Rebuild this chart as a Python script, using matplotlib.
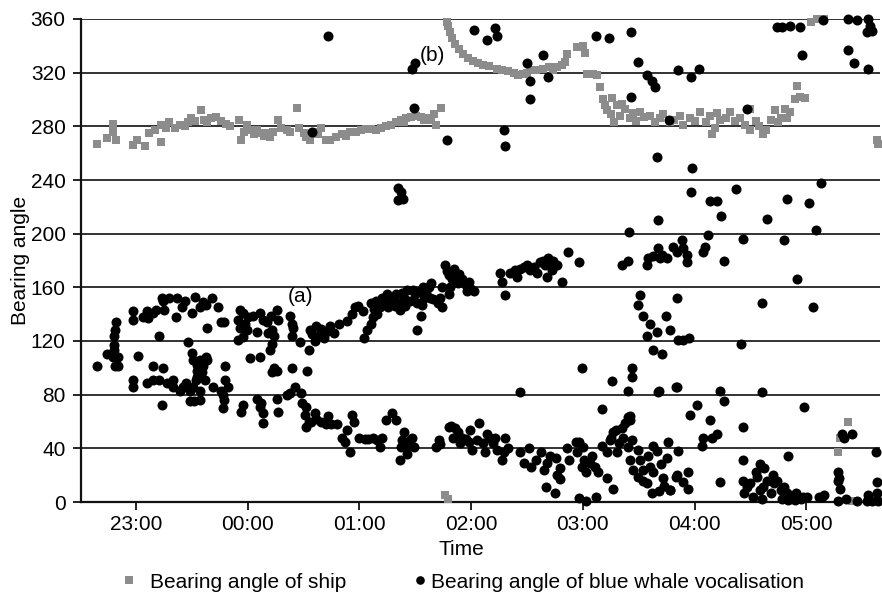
import matplotlib
matplotlib.use("Agg")
import matplotlib.pyplot as plt
from matplotlib.lines import Line2D
import numpy as np

plt.rcParams['font.family'] = ['Liberation Sans', 'DejaVu Sans']

# ---------------- data (time in hours, 24+ = after midnight; bearing in degrees) -------------
tick_hours = [23, 24, 25, 26, 27, 28, 29]
tick_labels = ['23:00', '00:00', '01:00', '02:00', '03:00', '04:00', '05:00']

ship_steady = [(22.65,267),(22.74,271),(22.79,282),(22.79,276),(22.82,270),(22.97,266),(23.01,270),
    (23.08,265),(23.12,275),(23.17,277),(23.22,268),(23.22,281),(23.27,279),(23.30,283),(23.35,279),
    (23.39,281),(23.44,280),(23.47,283),(23.49,286),(23.53,284),(23.58,292),(23.61,285),(23.64,283),
    (23.67,286),(23.72,287),(23.76,284),(23.81,282),(23.84,280),(23.92,285),(23.94,270),(23.97,276),
    (23.99,281),(24.03,277),(24.06,274),(24.08,277),(24.12,275),(24.15,273),(24.17,275),(24.20,272),
    (24.23,276),(24.27,285),(24.30,279),(24.35,277),(24.38,276),(24.44,294),(24.46,279),(24.50,275),
    (24.52,272),(24.56,270),(24.60,276),(24.63,274),(24.66,279),(24.70,270),(24.74,270),(24.79,272),
    (24.84,274),(24.88,273),(24.92,276),(24.97,276),(25.01,277),(25.06,278),(25.10,278),(25.15,277),
    (25.19,279),(25.24,280),(25.28,281),(25.33,283),(25.37,285),(25.40,283),(25.42,286),(25.46,287),
    (25.51,288),(25.55,287),(25.58,285),(25.60,286),(25.64,285),(25.67,289),(25.69,281),(25.73,294)]

ship_curve = [(25.78,358),(25.79,355),(25.81,350),(25.83,346),(25.86,341),(25.89,338),(25.93,334),
    (25.97,331),(26.02,329),(26.06,327),(26.11,326),(26.16,325),(26.23,323),(26.28,322),(26.33,321),
    (26.38,320),(26.42,318),(26.46,319),(26.50,320),(26.53,322),(26.58,322),(26.64,323),(26.70,324),
    (26.73,322),(26.77,324),(26.81,326),(26.84,328),(26.86,334),(26.95,339),(27.00,340),(27.02,335),
    (27.04,319),(27.09,319),(27.13,318),(27.15,309)]

ship_plateau = [(27.18,300),(27.20,296),(27.22,292),(27.25,289),(27.26,301),(27.28,283),(27.31,296),
    (27.33,288),(27.35,297),(27.38,293),(27.42,286),(27.45,290),(27.48,284),(27.51,291),(27.55,287),
    (27.60,288),(27.65,283),(27.69,286),(27.72,289),(27.78,283),(27.82,285),(27.87,288),(27.90,281),
    (27.96,286),(28.00,284),(28.05,291),(28.10,283),(28.14,288),(28.16,274),(28.18,279),(28.20,290),
    (28.23,285),(28.28,286),(28.32,291),(28.36,284),(28.41,286),(28.45,281),(28.50,293),(28.50,277),
    (28.55,284),(28.58,280),(28.61,274),(28.64,277),(28.68,285),(28.72,292),(28.75,283),(28.77,286),
    (28.81,293),(28.83,286),(28.85,291),(28.90,300),(28.92,310),(28.94,302),(28.99,301)]

ship_other = [(25.77,5),(25.79,2),(29.04,358),(29.10,360),(29.16,360),(29.37,60),(29.30,48),
    (29.28,37),(29.41,0.5),(29.44,0.5),(29.63,270),(29.64,267)]

whale_early = [(22.65,101),(22.74,110),(22.79,108),(22.80,124),(22.80,117),(22.80,113),(22.81,101),
    (22.84,101),(22.84,108),(22.82,134),(22.81,128),(22.97,142),(22.97,136),(23.02,109),(22.97,91),
    (22.97,86),(23.06,138),(23.10,142),(23.11,137),(23.15,141),(23.18,143),(23.21,124),(23.23,152),
    (23.25,143),(23.24,150),(23.30,152),(23.37,152),(23.44,150),(23.36,138),(23.41,145),(23.15,101),
    (23.24,100),(23.23,72),(23.10,89),(23.15,91),(23.21,91),(23.28,89),(23.33,91),(23.33,86),
    (23.39,83),(23.42,86),(23.45,89),(23.48,83),(23.51,86),(23.54,91),(23.57,83),(23.57,76),
    (23.48,75),(23.52,75),(23.62,91)]

whale_a = [(23.47,119),(23.50,111),(23.51,106),(23.55,102),(23.57,106),(23.60,101),(23.63,108),
    (23.64,106),(23.59,97),(23.55,93),(23.55,98),(23.53,153),(23.50,141),(23.57,145),(23.60,149),
    (23.63,147),(23.64,130),(23.68,152),(23.73,145),(23.76,134),(23.79,134),(23.69,86),(23.76,83),
    (23.78,80),(23.79,76),(23.80,91),(23.82,86),(23.78,70),(23.80,101),(23.93,143),(23.96,141),
    (23.91,136),(23.93,130),(23.91,121),(23.96,123),(23.98,133),(24.00,138),(24.05,139),(23.99,128),
    (24.02,107),(24.11,141),(24.11,108),(24.14,136),(24.08,127),(23.94,67),(23.96,72),(24.08,77),
    (24.12,74),(24.14,66),(24.14,59),(24.11,71),(24.17,134),(24.18,126),(24.21,139),(24.22,128),
    (24.24,124),(24.26,143),(24.27,136),(24.20,113),(24.22,118),(24.24,100),(24.26,77),(24.27,67),
    (24.26,98),(24.22,97),(24.38,139),(24.40,133),(24.40,124),(24.41,130),(24.40,100),(24.38,81),
    (24.42,86),(24.35,80)]

whale_b = [(24.47,119),(24.48,81),(24.49,74),(24.51,65),(24.52,71),(24.53,98),(24.52,56),(24.55,60),
    (24.56,128),(24.58,125),(24.61,131),(24.63,124),(24.66,129),(24.70,127),(24.74,131),(24.77,126),
    (24.82,133),(24.60,120),(24.68,122),(24.55,113),(24.57,60),(24.61,62),(24.66,60),(24.70,58),
    (24.75,58),(24.80,58),(24.60,66),(24.72,64),(24.84,48),(24.87,45),(24.89,54),(24.92,37),
    (24.93,65),(24.95,60),(25.00,48),(25.05,47),(25.08,47),(24.89,135),(24.93,140),(24.96,145),
    (24.99,146),(25.03,142),(25.04,122),(25.07,128),(25.10,133),(25.12,138),(25.10,148),(25.13,144),
    (25.15,150),(25.18,145),(25.20,152),(25.16,140),(25.22,148),(25.25,155),(25.28,150),(25.30,152),
    (25.33,155),(25.35,148),(25.38,156),(25.40,152),(25.43,158),(25.45,150),(25.26,145),(25.32,146),
    (25.36,143),(25.41,146),(25.12,48),(25.16,46),(25.18,41),(25.20,48),(25.24,61),(25.29,66),
    (25.33,61),(25.36,31),(25.37,41),(25.38,46),(25.40,52),(25.42,41),(25.45,46),(25.47,48),
    (25.49,41),(25.43,36),(24.72,347),(24.58,276),(25.47,323),(25.50,327),(25.49,294),(25.35,234),
    (25.37,231),(25.35,225),(25.39,226)]

whale_c = [(25.52,128),(25.55,139),(25.56,147),(25.58,152),(25.60,156),(25.62,160),(25.64,163),
    (25.63,152),(25.66,151),(25.50,155),(25.54,157),(25.48,158),(25.52,148),(25.57,160),(25.70,148),
    (25.72,152),(25.74,145),(25.74,160),(25.77,177),(25.78,172),(25.80,169),(25.81,160),(25.83,166),
    (25.85,174),(25.86,168),(25.89,170),(25.92,166),(25.95,162),(25.96,157),(26.00,159),(26.03,157),
    (25.98,164),(25.80,155),(25.88,163),(25.69,41),(25.71,46),(25.72,43),(25.80,56),(25.82,57),
    (25.86,55),(25.88,52),(25.92,48),(25.95,47),(25.98,45),(26.01,39),(25.84,48),(25.90,44),
    (25.99,54),(26.07,59),(26.05,46),(26.11,44),(26.14,51),(26.17,48),(26.20,44),(26.21,48),
    (26.12,37),(26.23,39),(26.29,37),(26.28,31),(26.30,48),(26.33,40),(26.03,352),(26.14,344),
    (26.21,353),(26.23,347),(26.50,327),(26.53,314),(26.53,300),(26.64,333),(26.69,317),(25.78,270),
    (26.29,277),(26.30,265),(26.26,171),(26.28,164),(26.30,154),(26.35,171),(26.39,173),(26.41,168),
    (26.44,174),(26.47,175),(26.50,177),(26.53,173),(26.56,175),(26.59,171),(26.62,179),(26.64,180),
    (26.66,177),(26.69,182),(26.71,178),(26.72,173),(26.73,180),(26.77,177),(26.68,168),(26.81,164),
    (26.87,186),(26.97,179),(26.44,82)]

whale_d = [(26.44,37),(26.47,29),(26.52,40),(26.54,26),(26.58,31),(26.63,37),(26.65,24),(26.68,29),
    (26.71,34),(26.76,33),(26.77,20),(26.80,25),(26.86,40),(26.88,31),(26.94,45),(26.95,37),
    (26.99,26),(27.01,31),(27.03,22),(27.06,29),(27.08,34),(27.11,26),(27.14,22),(26.67,11),
    (26.75,7),(26.80,17),(26.97,3),(27.03,0.5),(27.12,4),(26.99,100),(27.26,90),(27.44,100),
    (27.44,93),(27.40,83),(27.67,82),(27.83,86),(27.17,69)]

whale_e = [(27.17,42),(27.22,37),(27.24,46),(27.27,52),(27.31,37),(27.32,44),(27.35,55),(27.36,48),
    (27.38,59),(27.42,61),(27.40,41),(27.42,31),(27.44,46),(27.45,24),(27.49,39),(27.49,19),
    (27.51,31),(27.54,24),(27.57,14),(27.58,34),(27.62,7),(27.63,42),(27.63,22),(27.60,26),
    (27.54,16),(27.27,10),(27.22,18),(27.75,33),(27.78,9),(27.83,19),(27.66,38),(27.70,28),
    (27.72,18),(27.73,12),(27.76,45),(27.85,38),(27.68,8),(27.30,54),(27.40,63),(27.42,64),
    (27.25,48),(26.97,45),(27.00,41)]

whale_f = [(27.51,154),(27.49,147),(27.54,139),(27.60,133),(27.57,124),(27.66,127),(27.63,113),
    (27.71,110),(27.74,139),(27.78,128),(27.84,152),(27.85,121),(27.90,121),(27.95,122),(27.68,83),
    (27.84,86),(27.66,257),(27.98,249),(28.37,233),(27.97,231),(28.14,224),(28.20,224),(28.83,226),
    (29.02,223),(28.24,213),(28.65,211),(27.67,210),(28.12,199),(27.41,201),(28.43,196),(28.80,195),
    (29.09,203),(27.89,195),(27.81,190),(27.84,186),(27.90,189),(27.93,184),(27.93,179),(28.09,190),
    (28.08,186),(28.26,180),(27.67,189),(27.71,184),(27.75,182),(27.69,182),(27.63,183),(27.58,182),
    (27.57,177),(27.40,180),(27.35,177),(28.92,166),(29.13,238)]

whale_g = [(27.96,65),(28.02,72),(28.14,61),(28.20,51),(28.16,48),(28.08,48),(28.07,42),(28.23,83),
    (28.26,75),(28.42,118),(28.43,56),(28.60,148),(28.60,82),(29.06,145),(28.98,71),(28.43,31),
    (28.59,28),(28.84,34),(28.23,15),(27.94,22),(27.84,20),(27.90,15),(27.94,10),(27.78,9),
    (28.43,16),(28.44,7),(28.47,11),(28.50,14),(28.52,4),(28.56,19),(28.59,9),(28.61,11),(28.65,16),
    (28.68,7),(28.71,14),(28.74,16),(28.77,9),(28.80,11),(28.83,7),(28.84,1.5),(28.87,4),(28.90,1.5),
    (28.91,7),(28.97,4),(29.01,4),(29.11,4),(29.14,4),(28.55,22),(28.62,25),(28.70,20),(28.60,2),
    (28.78,2),(28.95,2),(29.16,5),(29.32,51),(29.41,51),(29.62,37),(29.28,16),(29.30,10),(29.28,0.5),
    (29.36,2),(29.54,1),(29.59,0.5),(29.64,1),(29.63,15),(29.63,7),(29.34,48),(29.28,22),(29.29,18),
    (29.45,1),(29.55,5)]

whale_h = [(27.12,347),(27.23,346),(27.43,350),(27.49,328),(27.57,318),(27.62,314),(27.65,309),
    (27.43,302),(27.85,322),(27.97,317),(28.04,323),(27.77,285),(28.47,293),(28.96,333),(28.74,354),
    (28.78,354),(28.85,355),(28.94,354),(29.15,359),(29.37,360),(29.45,359),(29.55,360),(29.57,355),
    (29.59,351),(29.54,350),(29.37,337),(29.43,327),(29.55,323)]

annotations = [('(a)', 24.47, 153), ('(b)', 25.65, 333)]

# ---------------- figure -------------
W, H = 882, 597
fig = plt.figure(figsize=(W / 100, H / 100), dpi=100)
ax = fig.add_axes([81 / W, 1 - 502 / H, (880 - 81) / W, (502 - 19) / H])

ship = np.array(ship_steady + ship_curve + ship_plateau + ship_other)
whale = np.array(whale_early + whale_a + whale_b + whale_c + whale_d + whale_e +
                 whale_f + whale_g + whale_h)

SHIP_C = '#8c8c8c'
ax.scatter(ship[:, 0], ship[:, 1], marker='s', s=32, color=SHIP_C, linewidths=0, zorder=3,
           clip_on=False)
ax.scatter(whale[:, 0], whale[:, 1], marker='o', s=52, color='black', linewidths=0, zorder=4,
           clip_on=False)

ax.set_xlim(22.508, 29.66)
ax.set_ylim(0, 360)
ax.set_yticks(np.arange(0, 361, 40))
ax.set_xticks(tick_hours)
ax.set_xticklabels(tick_labels)
ax.yaxis.grid(True, color='#222222', linewidth=1.3)
ax.set_axisbelow(True)

for s in ['top', 'right']:
    ax.spines[s].set_visible(False)
for s in ['left', 'bottom']:
    ax.spines[s].set_linewidth(1.6)
    ax.spines[s].set_color('#111111')

ax.tick_params(axis='both', labelsize=15, length=6, width=1.3, color='#111111')
ax.tick_params(axis='y', pad=5)
ax.tick_params(axis='x', pad=3)

ax.set_ylabel('Bearing angle', fontsize=15)
ax.yaxis.set_label_coords(-0.064, 0.5)
ax.set_xlabel('Time', fontsize=15)
ax.xaxis.set_label_coords(0.476, -0.078)

for txt, tx, ty in annotations:
    ax.text(tx, ty, txt, fontsize=15, ha='center', va='center', zorder=5)

h1 = Line2D([], [], linestyle='none', marker='s', markersize=5.2, color=SHIP_C, markeredgewidth=0)
h2 = Line2D([], [], linestyle='none', marker='o', markersize=6.2, color='black', markeredgewidth=0)
leg1 = fig.legend([h1], ['Bearing angle of ship'], loc='center left',
                  bbox_to_anchor=(121 / W, 1 - 582 / H), frameon=False, fontsize=15,
                  handlelength=0.8, handletextpad=0.6, borderpad=0, borderaxespad=0)
leg2 = fig.legend([h2], ['Bearing angle of blue whale vocalisation'], loc='center left',
                  bbox_to_anchor=(414 / W, 1 - 582 / H), frameon=False, fontsize=15,
                  handlelength=0.6, handletextpad=0.2, borderpad=0, borderaxespad=0)

fig.savefig('out.png', dpi=100)
